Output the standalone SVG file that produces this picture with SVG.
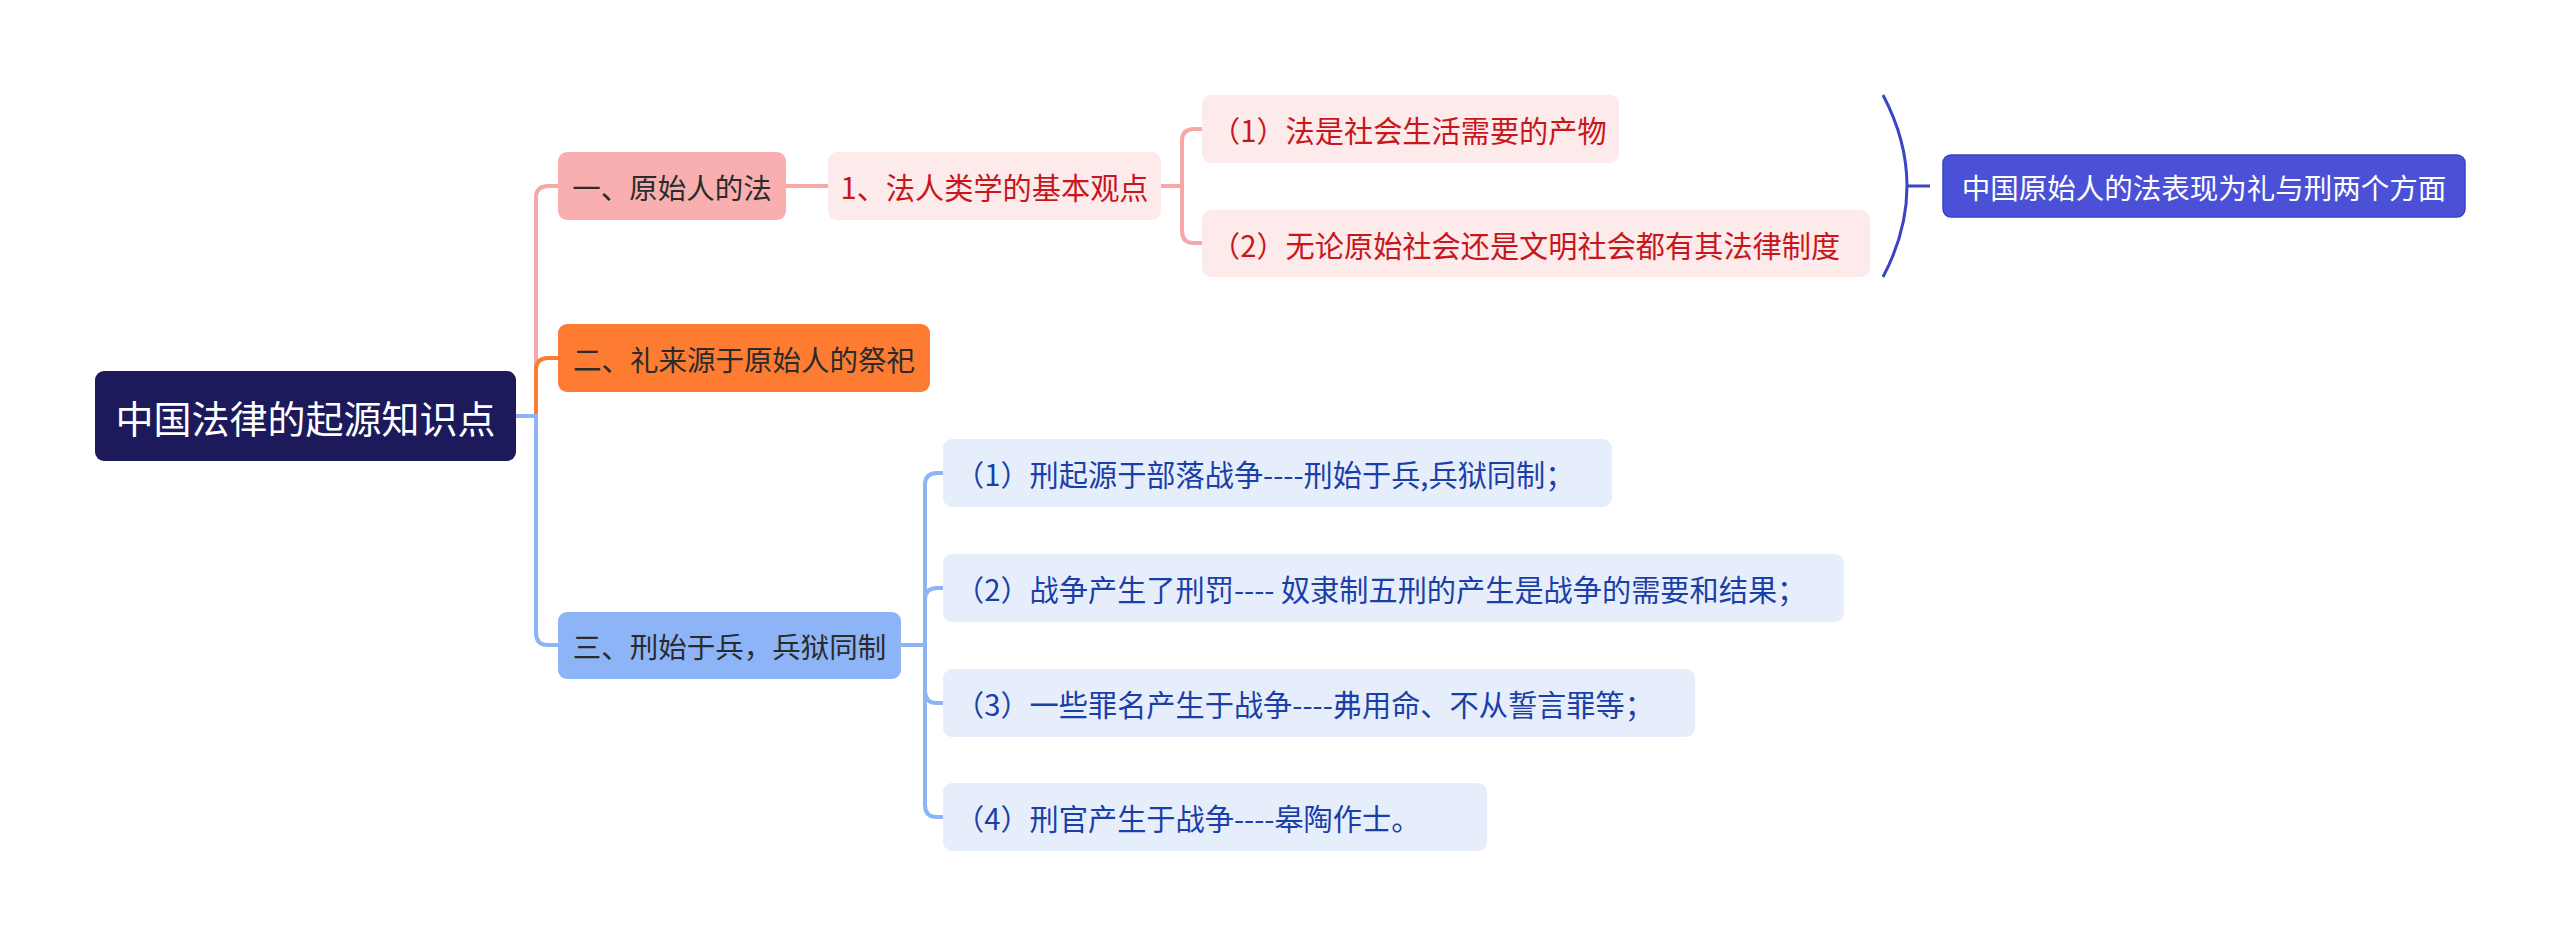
<svg xmlns="http://www.w3.org/2000/svg" width="2560" height="947" viewBox="0 0 2560 947">
<style>
text{font-family:"Noto Sans CJK SC","Microsoft YaHei",sans-serif;text-anchor:middle;dominant-baseline:central}
.st{text-anchor:start}
.root{fill:#1c1a5b}
.rootT{fill:#fff;font-size:38px}
.n1{fill:#f9afaf}
.n2{fill:#fd7c31}
.n3{fill:#8db4f7}
.l1T{fill:#2b2b2b;font-size:28.5px}
.pp{fill:#fdeaea}
.ppT{fill:#c8161d;font-size:29.2px}
.pb{fill:#e6eefc}
.pbT{fill:#1b3fa6;font-size:29.2px}
.sum{fill:#4b51d6;stroke:#3a41c4;stroke-width:1.5}
.sumT{fill:#fff;font-size:28.5px}
.c{fill:none;stroke-width:4;stroke-linecap:round}
.cp{stroke:#f6a8a8}
.co{stroke:#fd7c31}
.cb{stroke:#8db4f7}
.br{fill:none;stroke:#3b45c4;stroke-width:3}
</style>
<rect width="2560" height="947" fill="#fff"/>
<g id="connectors">
<path class="c cp" d="M536 416 V198 Q536 186 548 186 H558"/>
<path class="c co" d="M536 416 V370 Q536 358 548 358 H558"/>
<path class="c cb" d="M516 416 H536 V633 Q536 645 548 645 H558"/>
<path class="c cp" d="M786 186 H828"/>
<path class="c cp" d="M1161 186 H1182 M1182 186 V141 Q1182 129 1194 129 H1202 M1182 186 V231 Q1182 243 1194 243 H1202"/>
<path class="c cb" d="M901 645 H925 M925 645 V485 Q925 473 937 473 H943 M925 645 V600 Q925 588 937 588 H943 M925 645 V691 Q925 703 937 703 H943 M925 645 V805 Q925 817 937 817 H943"/>
<path class="br" d="M1883 95 Q1931 186 1883 277 M1907 186 H1930"/>
</g>
<g id="root"><rect class="root" x="95" y="371" width="421" height="90" rx="9"/><text class="rootT" x="305.5" y="416">中国法律的起源知识点</text></g>
<g id="n1"><rect class="n1" x="558" y="152" width="228" height="68" rx="9"/><text class="l1T" x="672" y="186">一、原始人的法</text></g>
<g id="n2"><rect class="n2" x="558" y="324" width="372" height="68" rx="9"/><text class="l1T" x="744" y="358">二、礼来源于原始人的祭祀</text></g>
<g id="n3"><rect class="n3" x="558" y="612" width="343" height="67" rx="9"/><text class="l1T" x="729.5" y="645.5">三、刑始于兵，兵狱同制</text></g>
<g id="n11"><rect class="pp" x="828" y="152" width="333" height="68" rx="9"/><text class="ppT" x="994.5" y="186">1、法人类学的基本观点</text></g>
<g id="n111"><rect class="pp" x="1202" y="95" width="417" height="68" rx="9"/><text class="ppT st" x="1211" y="129">（1）法是社会生活需要的产物</text></g>
<g id="n112"><rect class="pp" x="1202" y="210" width="668" height="67" rx="9"/><text class="ppT st" x="1211" y="243.5">（2）无论原始社会还是文明社会都有其法律制度</text></g>
<g id="summary"><rect class="sum" x="1943" y="155" width="522" height="62" rx="8"/><text class="sumT" x="2204" y="186">中国原始人的法表现为礼与刑两个方面</text></g>
<g id="n31"><rect class="pb" x="943" y="439" width="669" height="68" rx="9"/><text class="pbT st" x="955" y="473">（1）刑起源于部落战争----刑始于兵,兵狱同制；</text></g>
<g id="n32"><rect class="pb" x="943" y="554" width="901" height="68" rx="9"/><text class="pbT st" x="955" y="588">（2）战争产生了刑罚---- 奴隶制五刑的产生是战争的需要和结果；</text></g>
<g id="n33"><rect class="pb" x="943" y="669" width="752" height="68" rx="9"/><text class="pbT st" x="955" y="703">（3）一些罪名产生于战争----弗用命、不从誓言罪等；</text></g>
<g id="n34"><rect class="pb" x="943" y="783" width="544" height="68" rx="9"/><text class="pbT st" x="955" y="817">（4）刑官产生于战争----皋陶作士。</text></g>
</svg>
